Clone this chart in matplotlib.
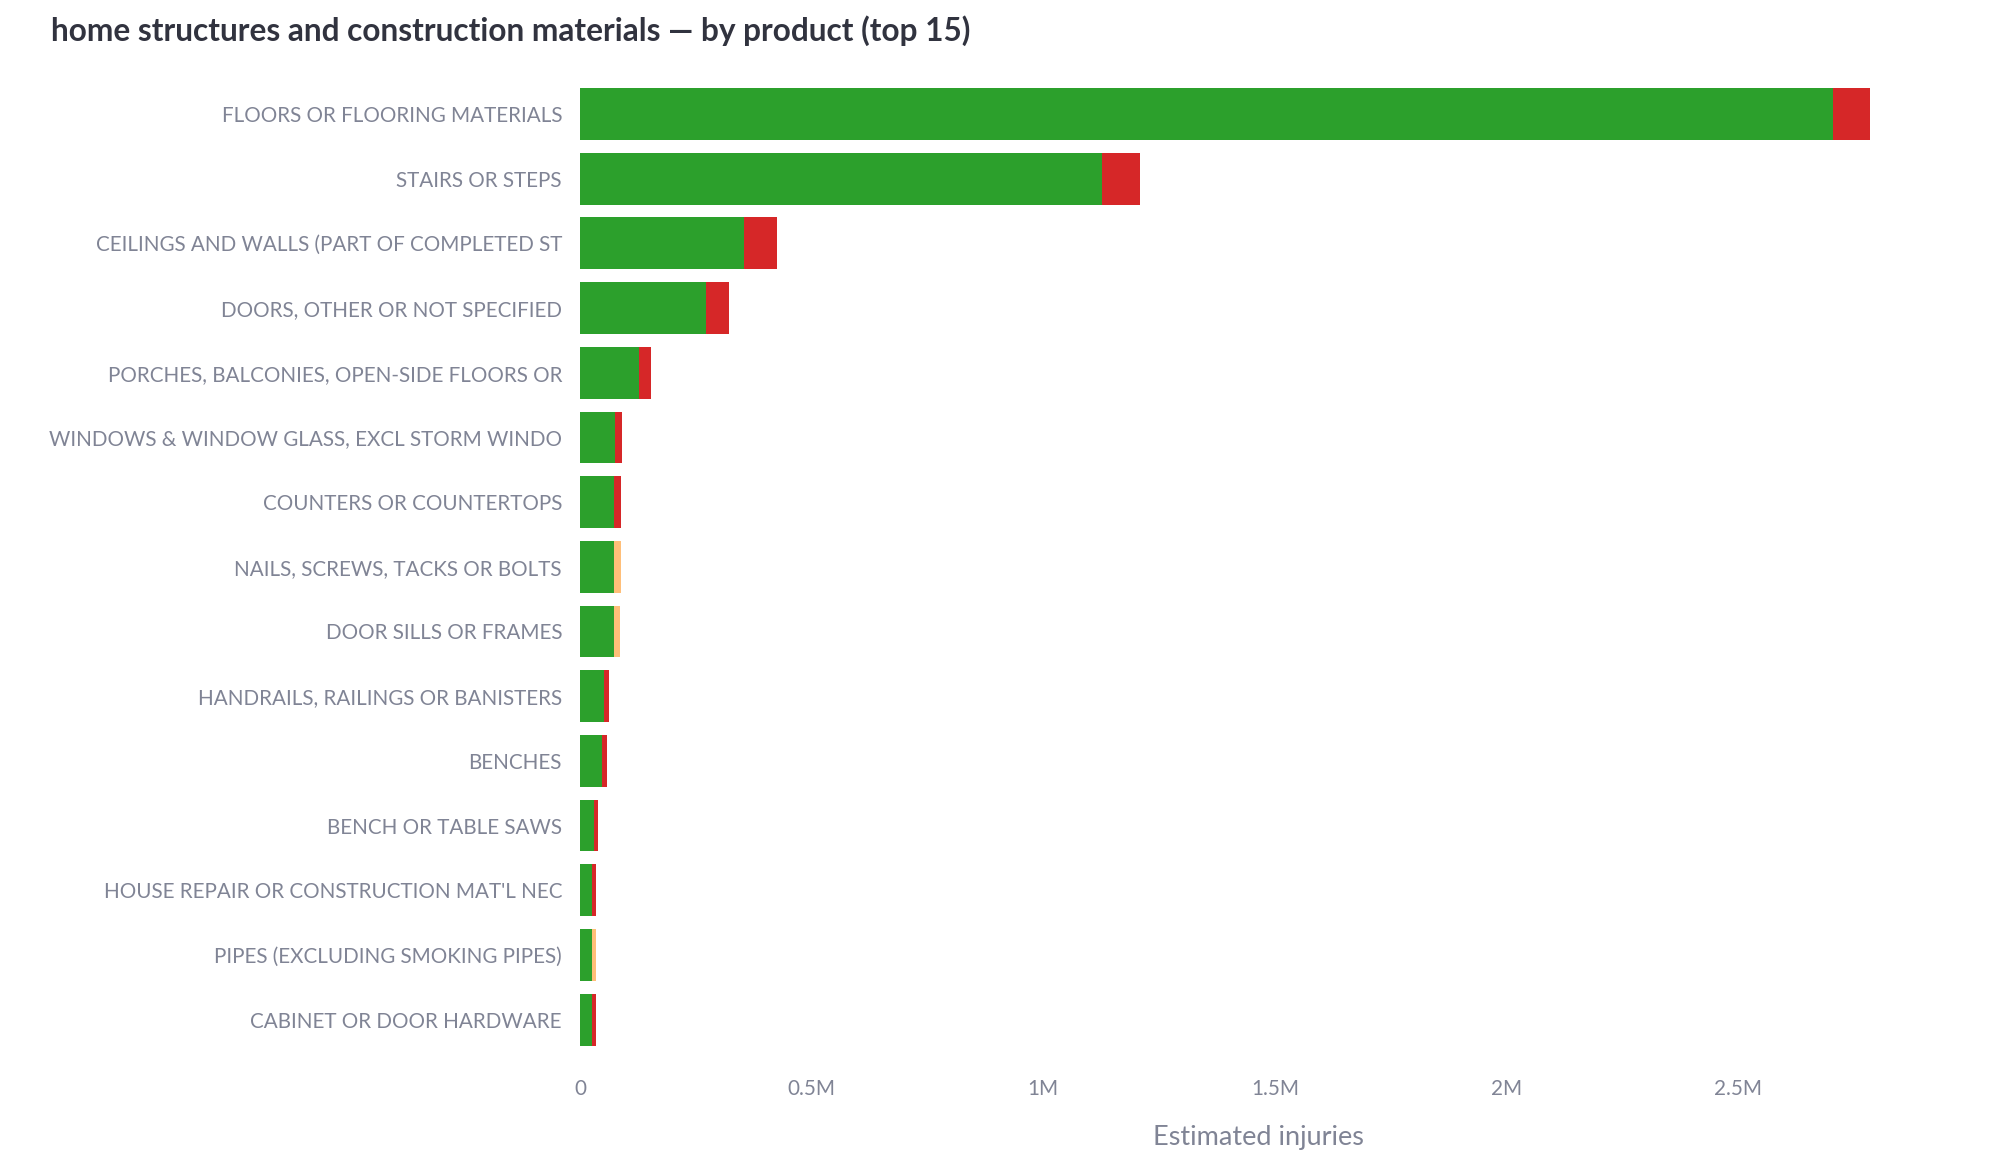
import matplotlib
matplotlib.use("Agg")
import matplotlib.pyplot as plt
import numpy as np

categories = [
    "FLOORS OR FLOORING MATERIALS",
    "STAIRS OR STEPS",
    "CEILINGS AND WALLS (PART OF COMPLETED ST",
    "DOORS, OTHER OR NOT SPECIFIED",
    "PORCHES, BALCONIES, OPEN-SIDE FLOORS OR",
    "WINDOWS & WINDOW GLASS, EXCL STORM WINDO",
    "COUNTERS OR COUNTERTOPS",
    "NAILS, SCREWS, TACKS OR BOLTS",
    "DOOR SILLS OR FRAMES",
    "HANDRAILS, RAILINGS OR BANISTERS",
    "BENCHES",
    "BENCH OR TABLE SAWS",
    "HOUSE REPAIR OR CONSTRUCTION MAT'L NEC",
    "PIPES (EXCLUDING SMOKING PIPES)",
    "CABINET OR DOOR HARDWARE",
]
green_vals = [2705000, 1126000, 354000, 271000, 127000, 75600, 73400, 73400, 73400,
              51500, 47000, 30000, 25900, 25900, 25900]
red_vals = [80000, 83000, 71000, 51000, 26000, 15100, 15200, 0, 0,
            10500, 11000, 8900, 8700, 0, 8700]
orange_vals = [0, 0, 0, 0, 0, 0, 0, 15200, 13000,
               0, 0, 0, 0, 8700, 0]
xticks = [0, 500000, 1000000, 1500000, 2000000, 2500000]
xtick_labels = ["0", "0.5M", "1M", "1.5M", "2M", "2.5M"]
title = "home structures and construction materials \u2014 by product (top 15)"
xlabel = "Estimated injuries"

W, H = 2002, 1164
FONT = ["Lato", "DejaVu Sans"]
plt.rcParams["font.family"] = FONT

fig = plt.figure(figsize=(W / 100, H / 100), dpi=100)
fig.patch.set_facecolor("white")
left, right, top, bottom = 580, 1937, 81.6, 1052
ax = fig.add_axes([left / W, 1 - bottom / H, (right - left) / W, (bottom - top) / H])

y = np.arange(len(categories))
g = np.array(green_vals, dtype=float)
r = np.array(red_vals, dtype=float)
o = np.array(orange_vals, dtype=float)
ax.barh(y, g, height=0.8, color="#2ca02c", linewidth=0)
ax.barh(y, r, left=g, height=0.8, color="#d62728", linewidth=0)
ax.barh(y, o, left=g + r, height=0.8, color="#ffbf79", linewidth=0)

ax.set_ylim(len(categories) - 0.5, -0.5)
ax.set_xlim(0, (right - left) / 463.2 * 1e6)
ax.set_yticks(y)
ax.set_yticklabels(categories)
ax.set_xticks(xticks)
ax.set_xticklabels(xtick_labels)
for s in ax.spines.values():
    s.set_visible(False)
label_color = "#808495"
ax.tick_params(axis="y", length=0, pad=18 * 0.72, colors=label_color)
ax.tick_params(axis="x", length=0, pad=27 * 0.72, colors=label_color)
ax.grid(False)

t = fig.text(51 / W, 1 - 31 / H, title, ha="left", va="center",
             fontweight="bold", color="#31333F", fontsize=20)
xl = fig.text((left + right) / 2 / W, 1 - 1138 / H, xlabel, ha="center", va="center",
              color=label_color, fontsize=17)

# fit font sizes to the reference text widths
fig.canvas.draw()
rend = fig.canvas.get_renderer()
def fit(txt, target):
    w = txt.get_window_extent(rend).width
    txt.set_fontsize(txt.get_fontsize() * target / w)

fit(t, 924)
fit(xl, 212)
lab = ax.get_yticklabels()[2]
lab.set_fontsize(15)
fig.canvas.draw()
w = lab.get_window_extent(rend).width
fs = 15 * 468 / w
for tl in ax.get_yticklabels():
    tl.set_fontsize(fs)
for tl in ax.get_xticklabels():
    tl.set_fontsize(fs)

fig.savefig("out.png", dpi=100, facecolor="white")
